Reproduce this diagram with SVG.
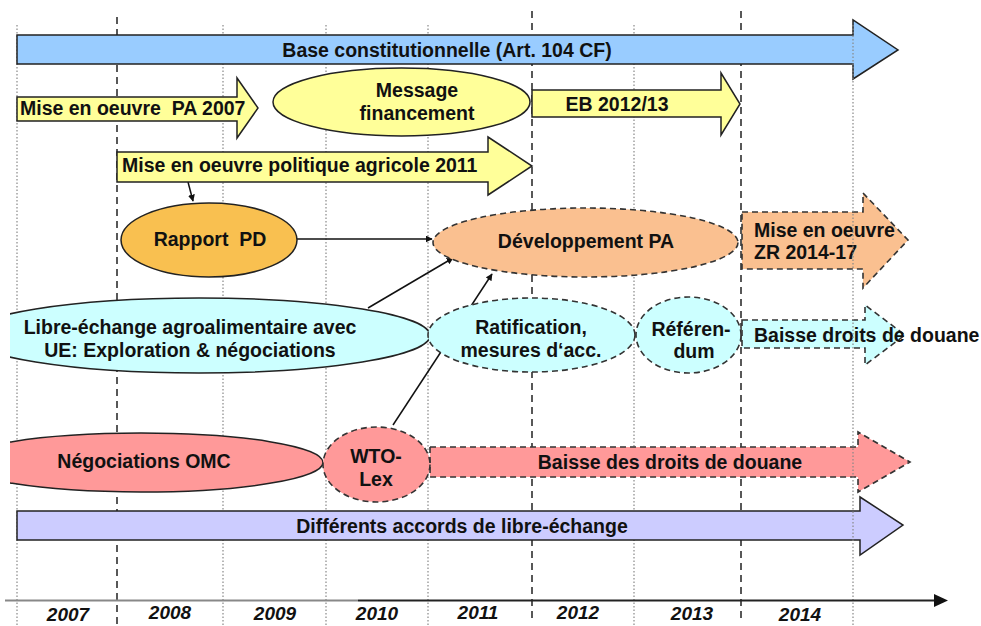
<svg xmlns="http://www.w3.org/2000/svg" width="981" height="626" viewBox="0 0 981 626">
<style>
text{font-family:"Liberation Sans",Arial,sans-serif;font-weight:bold;font-size:19.5px;fill:#111}
.m{text-anchor:middle}
.yr{font-style:italic;font-size:19px;text-anchor:middle}
.dot{stroke:#888;stroke-width:1.2;stroke-dasharray:1.5,2;fill:none}
.dash{stroke:#222;stroke-width:1.5;stroke-dasharray:7,5;fill:none}
.solid{stroke:#222;stroke-width:1.5}
.dsh{stroke:#333;stroke-width:1.6;stroke-dasharray:6,4}
.con{stroke:#111;stroke-width:1.5;fill:none;marker-end:url(#ah)}
</style>
<defs>
<marker id="ah" viewBox="0 0 10 10" refX="9" refY="5" markerWidth="7" markerHeight="7" markerUnits="userSpaceOnUse" orient="auto"><path d="M0,0 L10,5 L0,10 Z" fill="#111"/></marker>
<clipPath id="lc"><rect x="10" y="0" width="971" height="626"/></clipPath>
</defs>
<rect width="981" height="626" fill="#fff"/>
<g id="grid">
<line class="dot" x1="17" y1="25" x2="17" y2="626"/>
<line class="dash" x1="117" y1="17" x2="117" y2="626"/>
<line class="dot" x1="223" y1="25" x2="223" y2="626"/>
<line class="dot" x1="326" y1="25" x2="326" y2="626"/>
<line class="dot" x1="428" y1="25" x2="428" y2="626"/>
<line class="dash" x1="532" y1="11" x2="532" y2="620"/>
<line class="dot" x1="634" y1="25" x2="634" y2="626"/>
<line class="dash" x1="741" y1="11" x2="741" y2="620"/>
</g>
<g id="connectors">
<line class="con" x1="188" y1="182" x2="193" y2="201"/>
<line class="con" x1="297" y1="239" x2="432" y2="239"/>
<line class="con" x1="368" y1="308" x2="453" y2="258"/>
<line class="con" x1="393" y1="425" x2="492" y2="274"/>
</g>
<g id="base">
<path class="solid" fill="#99CCFF" d="M17,35 H853 V20 L898,50 L853,79 V64 H17 Z"/>
<text class="m" x="447" y="57">Base constitutionnelle (Art. 104 CF)</text>
</g>
<g id="pa2007">
<path class="solid" fill="#FFFF99" d="M17,97 H237 V78 L258,108 L237,138 V121 H17 Z"/>
<text x="20" y="115" xml:space="preserve">Mise en oeuvre  PA 2007</text>
</g>
<g id="message">
<ellipse class="solid" fill="#FFFF99" cx="401.5" cy="102" rx="128.5" ry="34"/>
<text class="m" x="417" y="97">Message</text>
<text class="m" x="417" y="120">financement</text>
</g>
<g id="eb">
<path class="solid" fill="#FFFF99" d="M532,90 H721 V73 L740,104 L721,135 V117 H532 Z"/>
<text class="m" x="617" y="111">EB 2012/13</text>
</g>
<g id="pa2011">
<path class="solid" fill="#FFFF99" d="M117,152 H488 V137 L532,166 L488,195 V182 H117 Z"/>
<text x="122" y="172">Mise en oeuvre politique agricole 2011</text>
</g>
<g id="rapport">
<ellipse class="solid" fill="#F9C050" cx="209" cy="240" rx="88" ry="37"/>
<text class="m" x="210" y="246" xml:space="preserve">Rapport  PD</text>
</g>
<g id="developpement">
<ellipse class="dsh" fill="#FAC090" cx="585.5" cy="242.5" rx="152.5" ry="34.5"/>
<text class="m" x="586" y="248">Développement PA</text>
</g>
<g id="zr">
<path class="dsh" fill="#FAC090" d="M742,212 H863 V193 L908,240 L863,288 V269 H742 Z"/>
<text x="754" y="237">Mise en oeuvre</text>
<text x="754" y="259">ZR 2014-17</text>
</g>
<g id="libre">
<ellipse class="solid" fill="#CCFFFF" cx="199" cy="335.5" rx="231" ry="37.5" clip-path="url(#lc)"/>
<text class="m" x="190" y="334">Libre-échange agroalimentaire avec</text>
<text class="m" x="190" y="357">UE: Exploration &amp; négociations</text>
</g>
<g id="ratification">
<ellipse class="dsh" fill="#CCFFFF" cx="531.5" cy="335" rx="103.5" ry="37"/>
<text class="m" x="531" y="334">Ratification,</text>
<text class="m" x="531" y="357">mesures d‘acc.</text>
</g>
<g id="referendum">
<ellipse class="dsh" fill="#CCFFFF" cx="688.5" cy="335" rx="52.5" ry="38"/>
<text class="m" x="691" y="336">Référen-</text>
<text class="m" x="694" y="358">dum</text>
</g>
<g id="baisse1">
<path class="dsh" fill="#CCFFFF" d="M742,320 H865 V305 L905,335 L865,365 V348 H742 Z"/>
<text x="754" y="342">Baisse droits de douane</text>
</g>
<g id="omc">
<ellipse class="solid" fill="#FF9999" cx="141" cy="462.5" rx="182" ry="29.5" clip-path="url(#lc)"/>
<text class="m" x="144" y="468">Négociations OMC</text>
</g>
<g id="baisse2">
<path class="dsh" fill="#FF9999" d="M430,447 H858 V432 L910,462 L858,492 V477 H430 Z"/>
<text class="m" x="670" y="469">Baisse des droits de douane</text>
</g>
<g id="wto">
<ellipse class="dsh" fill="#FF9999" cx="376.5" cy="464.5" rx="53.5" ry="37.5"/>
<text class="m" x="376" y="463">WTO-</text>
<text class="m" x="376" y="486">Lex</text>
</g>
<g id="accords">
<path class="solid" fill="#CCCCFF" d="M17,511 H860 V497 L903,525 L860,555 V540 H17 Z"/>
<text class="m" x="462" y="533">Différents accords de libre-échange</text>
</g>
<g id="grid-top">
<line class="dot" x1="853" y1="25" x2="853" y2="626"/>
</g>
<g id="axis">
<line x1="5" y1="600.5" x2="358" y2="600.5" stroke="#888" stroke-width="2"/>
<line x1="358" y1="600.5" x2="936" y2="600.5" stroke="#222" stroke-width="2"/>
<polygon points="934,594 948,600.5 934,607" fill="#111"/>
<text class="yr" x="68" y="621">2007</text>
<text class="yr" x="170" y="619">2008</text>
<text class="yr" x="275" y="620">2009</text>
<text class="yr" x="377" y="620">2010</text>
<text class="yr" x="478" y="619">2011</text>
<text class="yr" x="578" y="619">2012</text>
<text class="yr" x="692" y="620">2013</text>
<text class="yr" x="800" y="621">2014</text>
</g>
</svg>
